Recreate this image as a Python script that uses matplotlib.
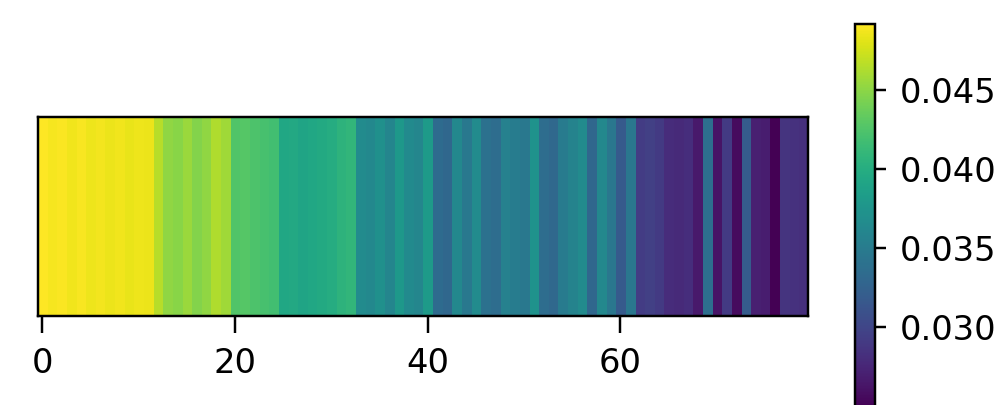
import numpy as np
import matplotlib
matplotlib.use("Agg")
import matplotlib.pyplot as plt

# Per-column weights shown as a single-row heat strip
weights_a = [0.0492, 0.0489, 0.0491, 0.0487, 0.0490, 0.0486, 0.0488, 0.0485, 0.0487, 0.0484, 0.0486, 0.0485]
weights_b = [0.0466, 0.0452, 0.0449, 0.0455, 0.0447, 0.0452, 0.0463, 0.0457, 0.0426, 0.0428, 0.0424]
weights_c = [0.0421, 0.0418, 0.0394, 0.0396, 0.0391, 0.0394, 0.0397, 0.0399, 0.0406, 0.0409]
weights_d = [0.0366, 0.0362, 0.0371, 0.0360, 0.0379, 0.0365, 0.0361, 0.0381, 0.0334, 0.0330, 0.0362, 0.0346]
weights_e = [0.0366, 0.0340, 0.0336, 0.0356, 0.0351, 0.0346, 0.0373, 0.0336, 0.0331, 0.0350, 0.0358, 0.0366]
weights_f = [0.0330, 0.0362, 0.0345, 0.0318, 0.0345, 0.0292, 0.0295, 0.0290, 0.0280, 0.0278, 0.0281, 0.0266]
weights_g = [0.0338, 0.0262, 0.0290, 0.0256, 0.0320, 0.0270, 0.0268, 0.0249, 0.0286, 0.0284, 0.0282]

weights = np.array(weights_a + weights_b + weights_c + weights_d + weights_e + weights_f + weights_g)

x_ticks = [0, 20, 40, 60]
cbar_ticks = [0.030, 0.035, 0.040, 0.045]

plt.rcParams["font.size"] = 11

fig = plt.figure(figsize=(1004 / 220, 405 / 220), dpi=220)
ax = fig.add_axes([0.0375, 0.2198, 0.7673, 0.4914])
im = ax.imshow(weights[np.newaxis, :], cmap="viridis", aspect="auto",
               interpolation="nearest")
ax.set_xticks(x_ticks)
ax.set_yticks([])
ax.tick_params(axis="x", length=5.5, pad=4.5)

cax = fig.add_axes([0.8516, -0.005, 0.0199, 0.9457])
cb = fig.colorbar(im, cax=cax)
cb.set_ticks(cbar_ticks)
cb.set_ticklabels([f"{t:.3f}" for t in cbar_ticks])
cax.tick_params(length=3.5, pad=4.5)

fig.savefig("out.png", dpi=220)
